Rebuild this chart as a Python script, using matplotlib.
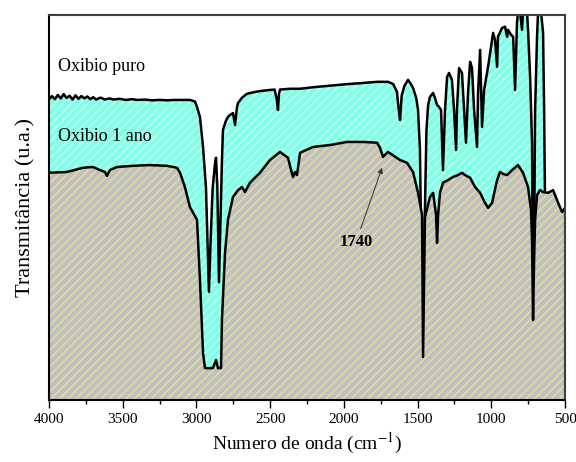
import matplotlib
matplotlib.use("Agg")
import matplotlib.pyplot as plt
from matplotlib.ticker import MultipleLocator

plt.rcParams['font.family'] = ['Liberation Serif', 'DejaVu Serif']
plt.rcParams['mathtext.fontset'] = 'stix'
plt.rcParams['hatch.linewidth'] = 1.0

# Oxibio puro (upper spectrum)
wn_puro = [4000, 3980, 3960, 3940, 3920, 3900, 3880, 3860, 3840, 3820, 3800, 3780,
           3760, 3740, 3720, 3700, 3680, 3650, 3620, 3590, 3560, 3520, 3480, 3440,
           3400, 3350, 3300, 3250, 3200, 3150, 3111, 3044, 3010, 2996, 2976, 2955,
           2935, 2925, 2915, 2905, 2890, 2875, 2867, 2858, 2847, 2838, 2827, 2820,
           2800, 2786, 2772, 2752, 2738, 2725, 2718, 2690, 2657, 2600, 2569, 2500,
           2470, 2455, 2447, 2440, 2433, 2365, 2297, 2209, 2094, 1979, 1870, 1775,
           1700, 1665, 1653, 1640, 1630, 1619, 1608, 1590, 1565, 1545, 1531, 1510,
           1497, 1484, 1472, 1463, 1455, 1440, 1429, 1416, 1395, 1382, 1368, 1355,
           1341, 1328, 1314, 1300, 1287, 1267, 1253, 1239, 1233, 1219, 1199, 1185,
           1172, 1158, 1144, 1131, 1117, 1097, 1090, 1076, 1063, 1049, 1022, 995,
           988, 975, 961, 955, 927, 907, 893, 887, 866, 852, 839, 826, 819, 805,
           792, 785, 758, 751, 737, 724, 717, 710, 703, 690, 683, 663, 649, 642, 636]
t_puro = [78.0, 78.9, 78.1, 79.2, 78.3, 79.4, 78.4, 79.0, 78.0, 79.1, 78.2, 78.9,
          78.3, 78.8, 78.1, 78.6, 78.0, 78.5, 78.0, 78.3, 78.0, 78.2, 77.9, 78.1,
          77.9, 78.0, 77.8, 77.9, 77.8, 77.9, 77.9, 77.9, 77.5, 76.1, 73.5, 65.7,
          55.0, 42.0, 28.1, 40.0, 55.0, 61.0, 62.9, 55.0, 30.6, 45.0, 62.0, 70.1,
          72.5, 73.5, 74.0, 74.5, 71.4, 76.0, 77.1, 78.5, 79.5, 80.0, 80.2, 80.5,
          80.6, 78.0, 75.3, 79.5, 80.6, 80.8, 80.8, 81.2, 81.6, 82.0, 82.3, 82.6,
          82.6, 82.0, 81.0, 80.0, 76.0, 72.7, 79.0, 81.5, 83.1, 82.0, 81.0, 78.5,
          75.3, 65.0, 30.0, 11.2, 40.0, 70.0, 76.5, 78.7, 79.7, 78.4, 76.6, 76.1,
          75.3, 59.7, 75.3, 83.9, 84.9, 83.1, 75.3, 64.9, 75.3, 86.2, 84.9, 75.3,
          66.8, 79.7, 87.8, 86.2, 75.3, 65.7, 79.7, 90.9, 70.9, 80.5, 86.5, 93.5,
          95.3, 93.5, 86.5, 94.3, 96.6, 96.9, 94.3, 96.1, 94.8, 94.3, 80.5, 97.9,
          100.8, 100.8, 96.1, 100.8, 100.8, 96.1, 83.9, 66.8, 20.8, 39.0, 75.3,
          94.3, 100.8, 100.8, 95.3, 75.3, 51.9]

# Oxibio 1 ano (lower spectrum)
wn_ano = [4000, 3878, 3769, 3702, 3654, 3620, 3607, 3586, 3539, 3430, 3315, 3200,
          3132, 3111, 3078, 3044, 2996, 2976, 2955, 2942, 2888, 2867, 2854, 2833,
          2827, 2806, 2786, 2752, 2718, 2691, 2671, 2637, 2569, 2501, 2433, 2379,
          2358, 2345, 2331, 2318, 2297, 2209, 2094, 1979, 1870, 1775, 1755, 1735,
          1701, 1619, 1572, 1531, 1497, 1470, 1463, 1450, 1416, 1395, 1375, 1368,
          1361, 1348, 1328, 1294, 1260, 1226, 1199, 1178, 1144, 1110, 1076, 1043,
          1022, 995, 961, 941, 921, 893, 859, 819, 785, 751, 731, 724, 717, 710,
          703, 690, 670, 649, 615, 581, 547, 520, 500]
t_ano = [59.0, 59.2, 60.3, 60.5, 59.7, 59.2, 58.2, 59.7, 60.5, 60.8, 61.0, 60.8,
         60.3, 59.0, 55.3, 50.1, 46.8, 31.2, 12.2, 8.3, 8.3, 10.4, 8.3, 8.3,
         20.8, 38.2, 46.8, 52.7, 54.5, 55.3, 54.0, 56.4, 59.0, 62.3, 64.4, 62.9,
         59.7, 57.9, 59.2, 58.4, 64.2, 65.7, 66.2, 67.0, 67.0, 66.8, 65.5, 63.1,
         64.4, 62.3, 61.6, 59.2, 53.8, 48.1, 11.2, 47.5, 52.7, 53.8, 48.1, 40.8,
         48.1, 53.8, 56.4, 57.1, 57.9, 58.4, 59.0, 58.4, 57.7, 55.3, 53.8, 51.2,
         49.9, 51.2, 57.1, 59.2, 58.7, 58.4, 59.7, 61.0, 59.0, 55.3, 49.4, 41.6,
         20.8, 36.4, 46.8, 53.2, 54.5, 54.0, 53.8, 54.5, 51.2, 48.8, 49.9]

labels = ['Oxibio puro', 'Oxibio 1 ano']
band = '1740'

fig = plt.figure(figsize=(5.76, 4.62), dpi=100)
ax = fig.add_axes([0.085, 0.134, 0.896, 0.834])

ax.fill_between(wn_puro, t_puro, 0, facecolor='#80ffe6', edgecolor='#c4fff2',
                hatch='////', linewidth=0, zorder=1)
ax.plot(wn_puro, t_puro, color='black', lw=1.8, zorder=2)
ax.fill_between(wn_ano, t_ano, 0, facecolor='#c0c0c0', edgecolor='#e2e29a',
                hatch='////', linewidth=0, zorder=3)
ax.plot(wn_ano, t_ano, color='black', lw=1.8, zorder=4)

ax.text(3939, 86.5, labels[0], fontsize=13, ha='left', va='center', zorder=5)
ax.text(3939, 68.3, labels[1], fontsize=13, ha='left', va='center', zorder=5)
ax.annotate(band, xy=(1741, 60.3), xytext=(1918, 41.0), fontsize=12,
            fontweight='bold', ha='center', va='center', zorder=6,
            arrowprops=dict(arrowstyle='-|>', color='#333333', lw=0.7,
                            mutation_scale=8, shrinkA=2, shrinkB=0))

ax.set_xlim(4000, 500)
ax.set_ylim(0, 100)
ax.xaxis.set_major_locator(MultipleLocator(500))
ax.xaxis.set_minor_locator(MultipleLocator(250))
ax.tick_params(axis='x', which='major', direction='out', length=6, width=1,
               labelsize=11, top=False)
ax.tick_params(axis='x', which='minor', direction='out', length=3, width=1, top=False)
ax.set_yticks([])
for side in ['left', 'bottom']:
    ax.spines[side].set_linewidth(1.5)
    ax.spines[side].set_color('black')
for side in ['top', 'right']:
    ax.spines[side].set_linewidth(1.5)
    ax.spines[side].set_color('#404040')
for s in ax.spines.values():
    s.set_zorder(7)

ax.set_xlabel(r'Numero de onda (cm$^{-1}$)', fontsize=14, labelpad=3)
ax.set_ylabel('Transmitância (u.a.)', fontsize=16, labelpad=10)

fig.savefig('out.png', dpi=100)
